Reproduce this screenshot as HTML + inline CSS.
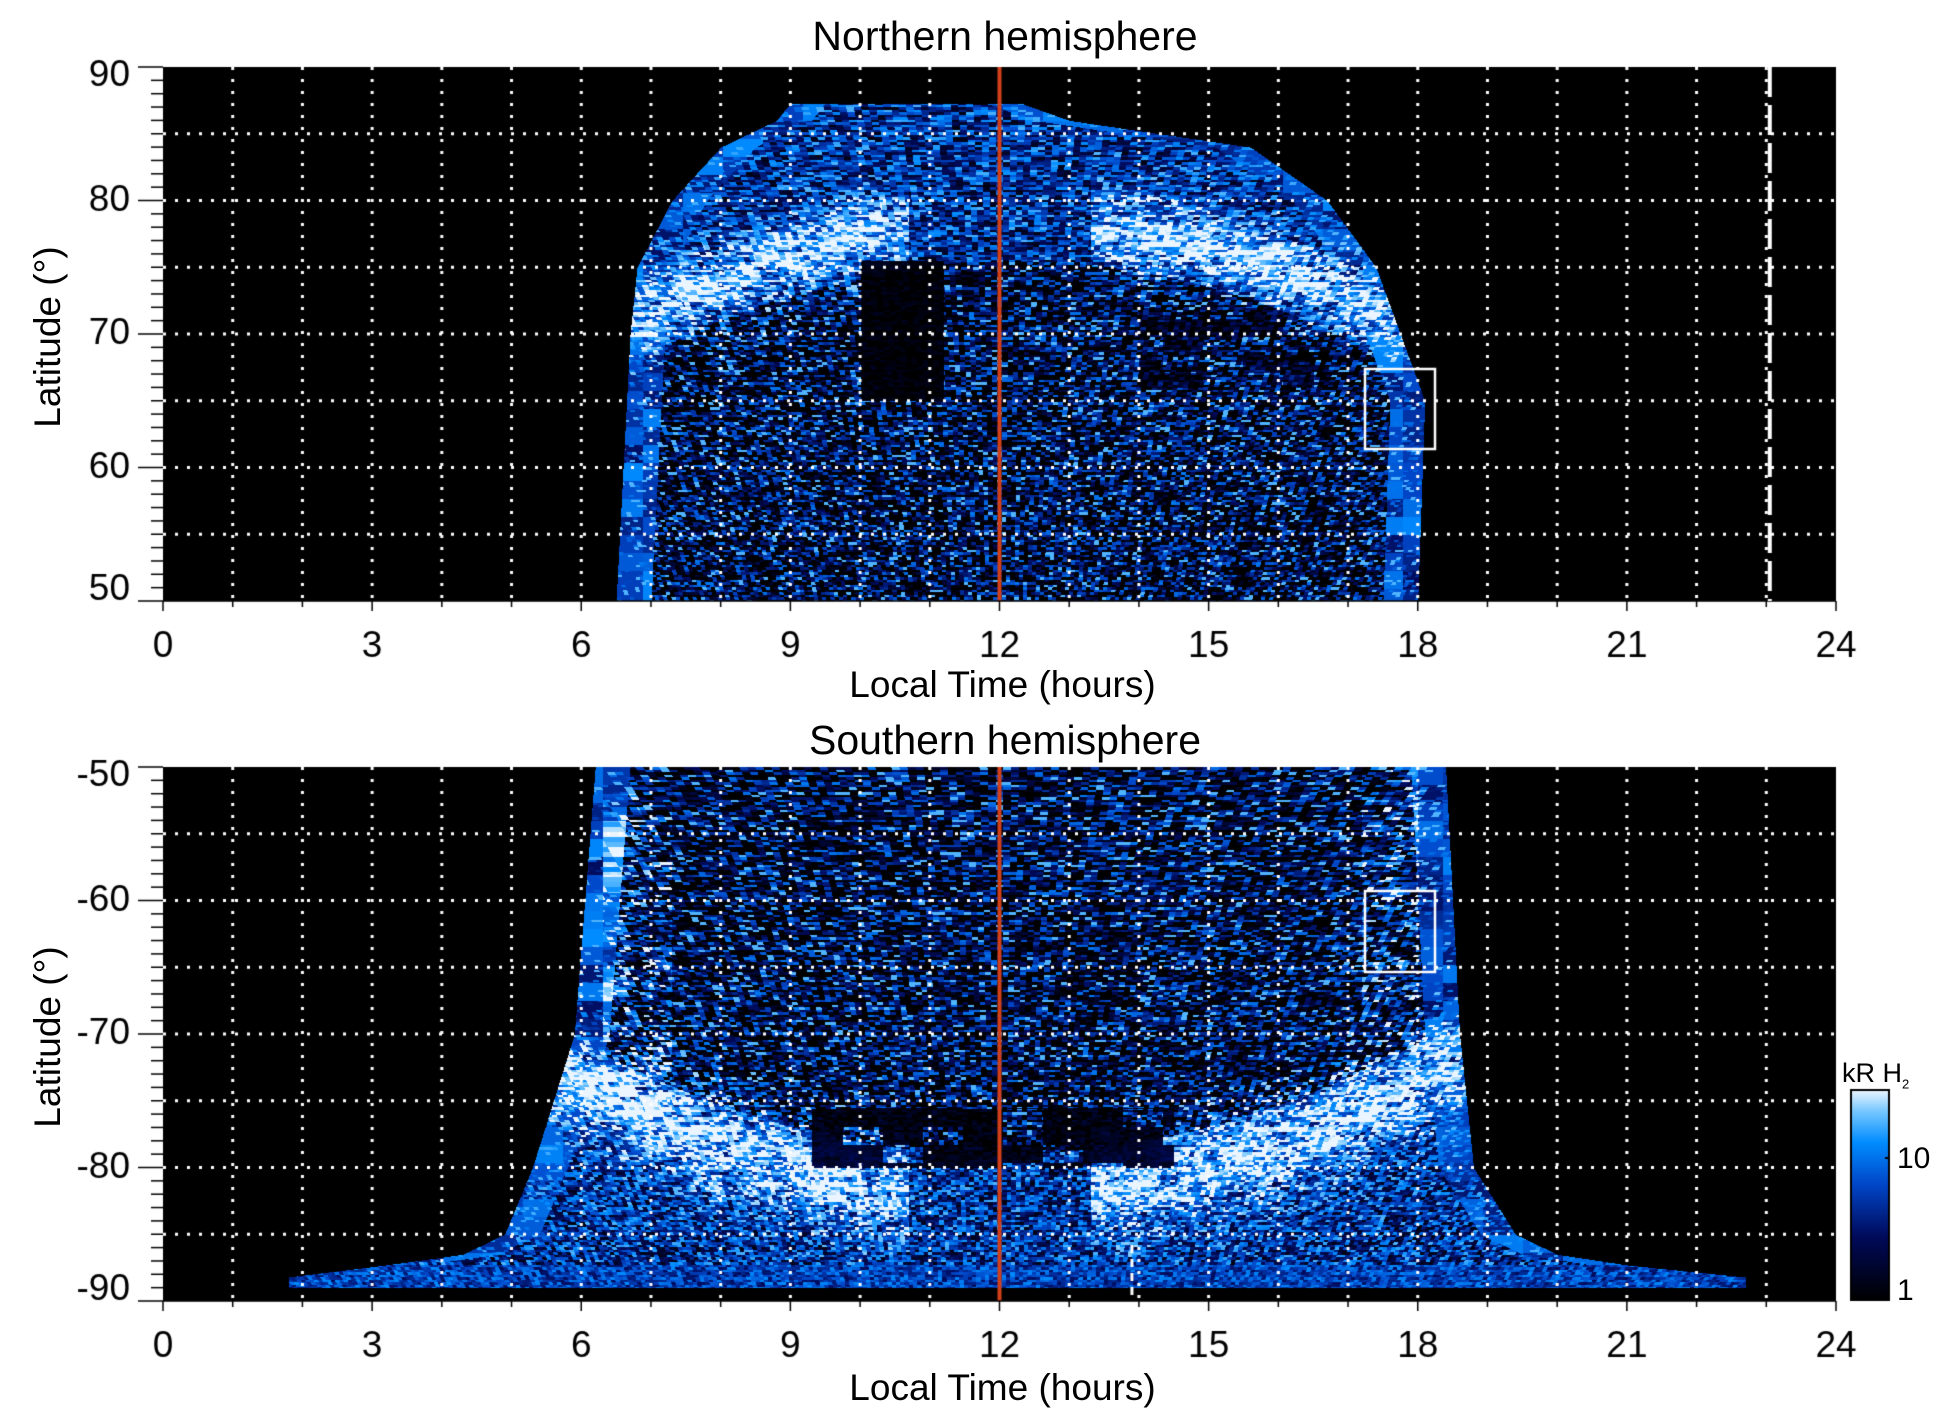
<!DOCTYPE html>
<html><head><meta charset="utf-8"><style>
body{margin:0;background:#fff;width:1950px;height:1423px;position:relative;overflow:hidden;font-family:"Liberation Sans",sans-serif;color:#000}
canvas{position:absolute}
.t{position:absolute;font-size:37px;white-space:nowrap}
</style></head><body>
<canvas id="c" width="1950" height="1423" style="left:0;top:0"></canvas>
<div class="t" style="left:0;width:2010px;text-align:center;top:13px;font-size:41px">Northern hemisphere</div>
<div class="t" style="left:0;width:2010px;text-align:center;top:717px;font-size:41px">Southern hemisphere</div>
<div class="t" style="left:0;width:2005px;text-align:center;top:664px">Local Time (hours)</div>
<div class="t" style="left:0;width:2005px;text-align:center;top:1367px">Local Time (hours)</div>
<div class="t" style="left:48px;top:337px;transform:translate(-50%,-50%) rotate(-90deg)">Latitude (°)</div>
<div class="t" style="left:48px;top:1037px;transform:translate(-50%,-50%) rotate(-90deg)">Latitude (°)</div>
<div class="t" style="left:1842px;top:1058px;font-size:27px">kR H<sub style="font-size:13px">2</sub></div>
<div class="t" style="left:1897px;top:1142px;font-size:30px">10</div>
<div class="t" style="left:1897px;top:1274px;font-size:30px">1</div>
<script>
const cv=document.getElementById('c'),ctx=cv.getContext('2d');
const X0=163,X1=1836,W=X1-X0,PH=W/24;
const plots=[{top:67,lo:50,hi:90,south:false},{top:767,lo:-90,hi:-50,south:true}];
const H=534;
function lin(tab,v){if(v<tab[0][0]||v>tab[tab.length-1][0])return null;for(let i=0;i<tab.length-1;i++){if(v<=tab[i+1][0]){const f=(v-tab[i][0])/(tab[i+1][0]-tab[i][0]);return tab[i][1]+f*(tab[i+1][1]-tab[i][1]);}}return tab[tab.length-1][1];}
function hash(a,b){let h=(a*374761393+b*668265263)|0;h=(h^(h>>>13))*1274126177|0;h=h^(h>>>16);return ((h>>>0)%10000)/10000;}
const stops=[[0,0,0,0],[0.3,0,10,90],[0.55,0,70,200],[0.75,0,140,255],[0.9,120,200,255],[1,235,245,255]];
function cmap(v){v=Math.max(0,Math.min(1,v));for(let i=0;i<stops.length-1;i++){if(v<=stops[i+1][0]){const a=stops[i],b=stops[i+1],f=(v-a[0])/(b[0]-a[0]);return [a[1]+f*(b[1]-a[1]),a[2]+f*(b[2]-a[2]),a[3]+f*(b[3]-a[3])];}}return [235,245,255];}
const TL=[[50,6.5],[70,6.7],[75,6.8],[80,7.3],[84,8.0],[86,8.8],[87.3,9.0]],TR=[[50,18],[65,18.1],[75,17.4],[80,16.7],[84,15.6],[86,13],[87.3,12.3]];
const BL=[[50,6.2],[70,5.9],[80,5.3],[85,4.9],[86.5,4.3],[87.3,3.2],[88.2,1.8],[89,1.8]],BR=[[50,18.4],[70,18.6],[80,18.8],[85,19.4],[86.5,20],[87.3,21],[88.2,22.7],[89,22.7]];
function val(h,a,south,r,r2,r3){
 const L=lin(south?BL:TL,a),R=lin(south?BR:TR,a);if(L===null||h<L||h>R)return -1;
 let v;
 if(south&&a>87.3){return 0.3+0.45*r;}
 const ringA=south?75+7*(1-Math.pow((h-12)/5.5,2)):70+8.5*(1-Math.pow((h-12.2)/5.8,2));
 const d=a-ringA;
 if(d<-3){v=0.2+(r-0.5)*1.15; if(r>0.93)v=0.85;}else{v=0.45+(r-0.5)*0.8;}
 if(Math.abs(h-12)>1.3)v+=Math.exp(-Math.pow(d/(south?3.5:2.5),2))*0.6*(0.4+0.9*r2);
 const de=Math.min(h-L,R-h);if(de<0.5)v=Math.max(v,0.3+0.45*r3);
 if(south){const el=Math.abs(h-6.8)<0.5&&a<76&&a>52,er=Math.abs(h-17.6)<0.4&&a<70;if(el||er)v+=0.35*r2;
  if(h>9.3&&h<14.5&&a>75.5&&a<80&&r3<0.7)v*=0.2;}
 else{if(h>10&&h<11.2&&a>65&&a<75.5)v*=0.12;if(h>14&&h<16.5&&a>66&&a<72&&r3<0.6)v*=0.5;}
 return v;
}
for(const p of plots){
 const img=ctx.createImageData(W,H),d=img.data;
 for(let y=0;y<H;y++){const lat=p.hi-(y/H)*(p.hi-p.lo);const a=Math.abs(lat);
  for(let x=0;x<W;x++){const h=x/PH;
   const sh=(h-12)*0.12;
   const cx=Math.floor((x+y*sh)/8),cy=Math.floor(y/2.5);
   const r=hash(cx,cy+(p.south?9999:0)),r2=hash(Math.floor((x+y*sh)/30),cy>>1),r3=hash(Math.floor(x/40),Math.floor(y/18)+(p.south?777:0));
   let v=val(h,a,p.south,r,r2,r3);const i=(y*W+x)*4;
   if(v<0){d[i]=d[i+1]=d[i+2]=0;}else{const c=cmap(v);d[i]=c[0];d[i+1]=c[1];d[i+2]=c[2];}
   d[i+3]=255;}}
 ctx.putImageData(img,X0,p.top);
 ctx.strokeStyle='#fff';ctx.lineWidth=3;ctx.setLineDash([3,9]);
 for(let k=1;k<24;k++){const x=X0+k*PH;ctx.beginPath();ctx.moveTo(x,p.top);ctx.lineTo(x,p.top+H);ctx.stroke();}
 for(let k=1;k<8;k++){const y=p.top+k*H/8;ctx.beginPath();ctx.moveTo(X0,y);ctx.lineTo(X1,y);ctx.stroke();}
 ctx.setLineDash([]);
 ctx.strokeStyle='#d2401a';ctx.lineWidth=4;ctx.beginPath();ctx.moveTo(X0+12*PH,p.top);ctx.lineTo(X0+12*PH,p.top+H);ctx.stroke();
 ctx.strokeStyle='#fff';ctx.lineWidth=2.5;
 if(!p.south)ctx.strokeRect(1365,369,70,80);else ctx.strokeRect(1365,891,70,81);
 ctx.strokeStyle='#000';ctx.lineWidth=1.5;
 ctx.beginPath();ctx.moveTo(X0,p.top+H);ctx.lineTo(X1,p.top+H);ctx.stroke();
 for(let k=0;k<=24;k++){const x=X0+k*PH;ctx.beginPath();ctx.moveTo(x,p.top+H);ctx.lineTo(x,p.top+H+(k%3?6:10));ctx.stroke();}
 for(let k=0;k<=40;k++){const y=p.top+k*H/40;ctx.beginPath();ctx.moveTo(X0,y);ctx.lineTo(X0-(k%10?12:25),y);ctx.stroke();}
 ctx.fillStyle='#000';ctx.font='37px "Liberation Sans", sans-serif';ctx.textAlign='center';ctx.textBaseline='middle';
 for(let k=0;k<=24;k+=3)ctx.fillText(String(k),X0+k*PH,p.top+H+46);
 ctx.textAlign='right';
 const off=[9,0,0,0,-11];
 for(let k=0;k<=4;k++){const y=p.top+k*H/4;const lv=p.hi-k*10;ctx.fillText(String(lv),130,y+off[k]);}
}
ctx.strokeStyle='#fff';ctx.lineWidth=4;ctx.setLineDash([30,8]);
ctx.beginPath();ctx.moveTo(X0+23.05*PH,67);ctx.lineTo(X0+23.05*PH,601);ctx.stroke();
ctx.lineWidth=3;ctx.setLineDash([8,6]);
ctx.beginPath();ctx.moveTo(X0+13.9*PH,1245);ctx.lineTo(X0+13.9*PH,1301);ctx.stroke();
ctx.setLineDash([]);
const g=ctx.createLinearGradient(0,1300,0,1090);
g.addColorStop(0,'#000');g.addColorStop(0.3,'#000a5a');g.addColorStop(0.55,'#0046c8');g.addColorStop(0.75,'#008cff');g.addColorStop(0.9,'#78c8ff');g.addColorStop(1,'#ebf5ff');
ctx.fillStyle=g;ctx.fillRect(1851,1090,38,210);ctx.strokeStyle='#000';ctx.lineWidth=2;ctx.strokeRect(1851,1090,38,210);
ctx.beginPath();ctx.moveTo(1885,1158);ctx.lineTo(1889,1158);ctx.stroke();
</script>
</body></html>
